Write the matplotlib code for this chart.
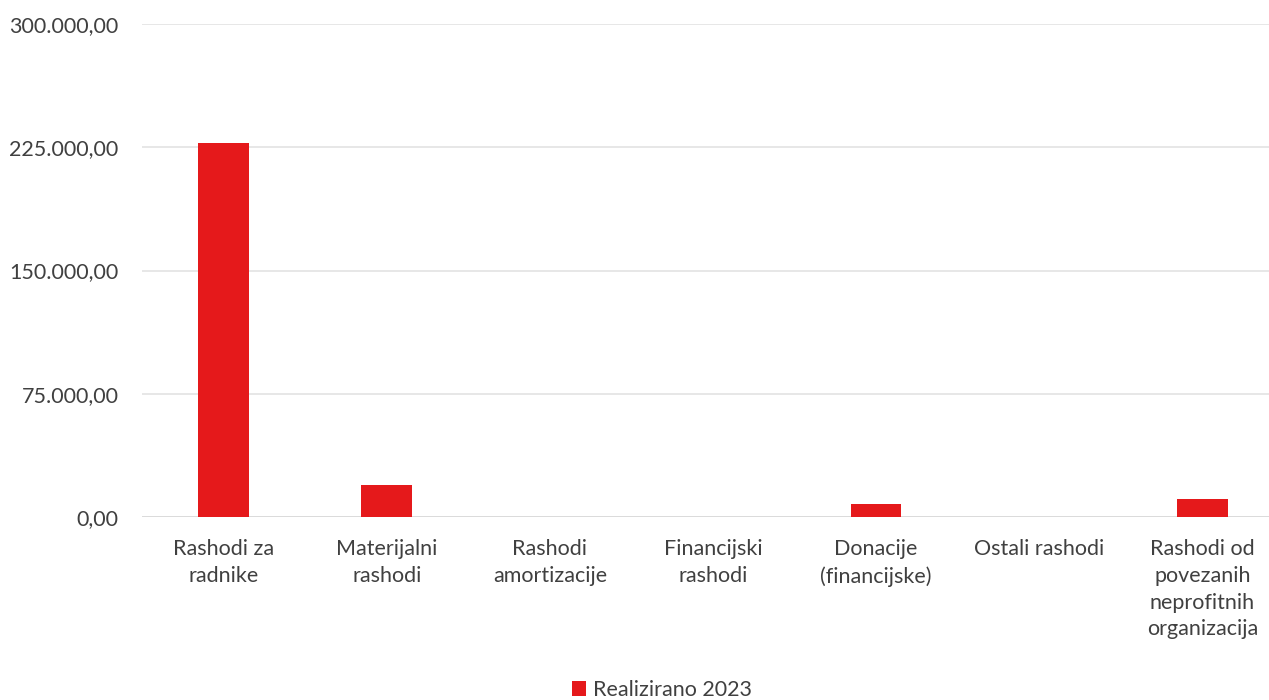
import numpy as np
import matplotlib.pyplot as plt
from matplotlib.ticker import FuncFormatter

categories = [
    "Rashodi za\nradnike",
    "Materijalni\nrashodi",
    "Rashodi\namortizacije",
    "Financijski\nrashodi",
    "Donacije\n(financijske)",
    "Ostali rashodi",
    "Rashodi od\npovezanih\nneprofitnih\norganizacija",
]
realizirano_2023 = [227800, 19500, 0, 0, 7900, 0, 11000]
y_ticks = [0, 75000, 150000, 225000, 300000]
series_label = "Realizirano 2023"

plt.rcParams["font.family"] = ["Lato", "DejaVu Sans"]


def hr_format(v, _pos=None):
    s = f"{v:,.2f}"
    return s.replace(",", "X").replace(".", ",").replace("X", ".")


fig = plt.figure(figsize=(12.69, 7), dpi=100)
ax = fig.add_axes([142 / 1269, 183 / 700, (1284 - 142) / 1269, (517 - 24) / 700])

x = np.arange(len(categories))
ax.bar(x, realizirano_2023, width=0.31, color="#e5191b", label=series_label, zorder=3)

ax.set_xlim(-0.5, len(categories) - 0.5)
ax.set_ylim(0, 300000)
ax.set_yticks(y_ticks)
ax.yaxis.set_major_formatter(FuncFormatter(hr_format))
ax.set_xticks(x)
ax.set_xticklabels(categories, linespacing=1.42)
ax.tick_params(axis="both", length=0, labelsize=15.5, colors="#404040")
ax.tick_params(axis="x", pad=16)
ax.tick_params(axis="y", pad=17)

ax.grid(axis="y", color="#e3e3e3", linewidth=1.2, zorder=0)
for s in ax.spines.values():
    s.set_visible(False)
ax.axhline(0, color="#d9d9d9", linewidth=1.2, zorder=2)

fig.legend(
    loc="center",
    bbox_to_anchor=(662 / 1269, 1 - 690 / 700),
    frameon=False,
    fontsize=15.5,
    handlelength=0.65,
    handleheight=0.65,
    handletextpad=0.3,
    labelcolor="#404040",
)

fig.savefig("out.png", dpi=100)
